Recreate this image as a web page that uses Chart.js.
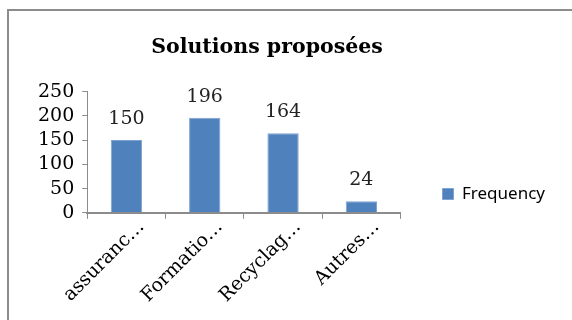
<!DOCTYPE html>
<html>
<head>
<meta charset="utf-8">
<script src="https://cdn.jsdelivr.net/npm/chart.js"></script>
<style>
  body{margin:0;background:#fff;}
  #frame{position:absolute;left:7px;top:9px;width:620px;height:400px;border-top:2px solid #8c8c8c;border-left:2px solid #8c8c8c;}
  #wrap{position:absolute;left:0;top:0;width:572px;height:320px;}
</style>
</head>
<body>
<div id="frame"></div>
<div id="wrap"><canvas id="myChart" width="572" height="320"></canvas></div>
<script>
const categories = ['assuranc\u2026', 'Formatio\u2026', 'Recyclag\u2026', 'Autres\u2026']
const frequency = [150, 196, 164, 24]
const yTicks = [0, 50, 100, 150, 200, 250]

const serif = 'DejaVu Serif'

// valeurs au-dessus des barres
const valueLabels = {
  id: 'valueLabels',
  afterDatasetsDraw(chart){
    const ctx = chart.ctx
    const meta = chart.getDatasetMeta(0)
    ctx.save()
    ctx.font = `19px "${serif}"`
    ctx.fillStyle = '#222'
    ctx.textAlign = 'center'
    ctx.textBaseline = 'alphabetic'
    meta.data.forEach((bar, i) => {
      ctx.fillText(frequency[i], bar.x, bar.y - 16)
    })
    ctx.restore()
  }
}

// titre un peu a gauche, legende plus bas (comme dans Excel)
const nudge = {
  id: 'nudge',
  afterLayout(chart){
    chart.titleBlock.right -= 51
    chart.legend.top += 42
    chart.legend.bottom += 42
  }
}

new Chart('myChart', {
  type: 'bar',
  data: {
    labels: categories,
    datasets: [{
      label: 'Frequency',
      data: frequency,
      backgroundColor: '#4F81BD',
      borderColor: '#7FA3D0',
      borderWidth: 1,
      categoryPercentage: 1,
      barPercentage: 0.4
    }]
  },
  options: {
    responsive: false,
    animation: false,
    layout: { padding: { left: 30, right: 17, bottom: 16, top: 0 } },
    plugins: {
      title: {
        display: true,
        text: 'Solutions proposées',
        color: '#000',
        font: { family: serif, size: 20.5, weight: 'bold' },
        padding: { top: 35, bottom: 32 }
      },
      legend: {
        position: 'right',
        maxWidth: 180,
        labels: {
          boxWidth: 11,
          boxHeight: 11,
          padding: 42,
          color: '#000',
          font: { family: 'Noto Sans', size: 17 }
        }
      },
      tooltip: { enabled: false }
    },
    scales: {
      x: {
        grid: { drawOnChartArea: false, color: '#8c8c8c', tickLength: 6, offset: true },
        border: { color: '#8c8c8c', width: 2 },
        ticks: {
          color: '#000',
          minRotation: 45,
          maxRotation: 45,
          labelOffset: 15,
          font: { family: serif, size: 19 },
          padding: -3
        }
      },
      y: {
        min: 0,
        max: 250,
        afterBuildTicks(axis){ axis.ticks = yTicks.map(v => ({ value: v })) },
        grid: { drawOnChartArea: false, color: '#8c8c8c', tickLength: 5 },
        border: { color: '#8c8c8c', width: 1 },
        ticks: {
          color: '#000',
          autoSkip: false,
          font: { family: serif, size: 19 },
          padding: 8
        }
      }
    }
  },
  plugins: [valueLabels, nudge]
})
</script>
</body>
</html>
